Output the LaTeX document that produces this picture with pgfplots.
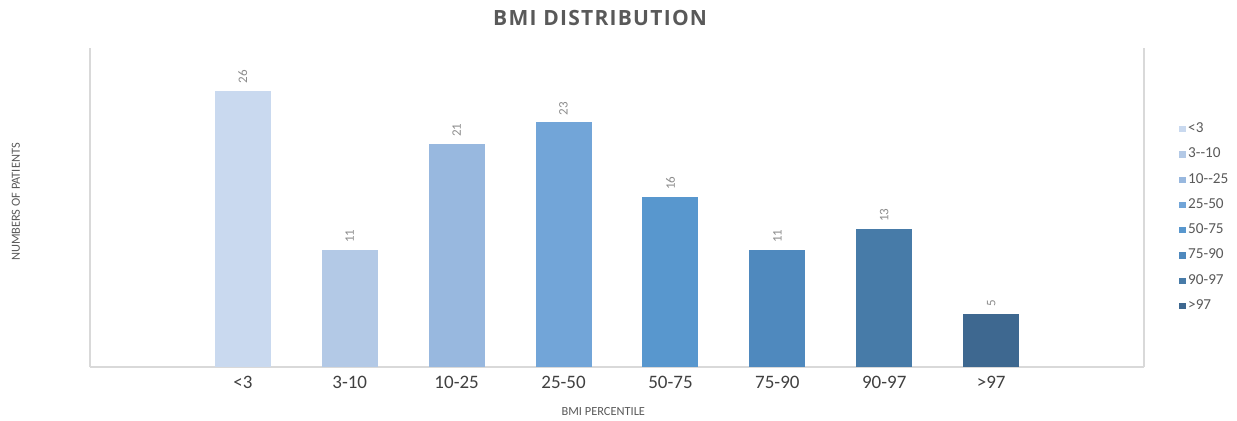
\documentclass[border=0pt]{standalone}
\usepackage{pgfplots}
\pgfplotsset{compat=1.18}
\usepackage{fontspec}
\setmainfont{Carlito}
\newfontfamily\titlefont[LetterSpace=6]{Open Sans}
\definecolor{c1}{HTML}{C9D9EF}
\definecolor{c2}{HTML}{B3C9E6}
\definecolor{c3}{HTML}{98B8DF}
\definecolor{c4}{HTML}{72A5D8}
\definecolor{c5}{HTML}{5897CE}
\definecolor{c6}{HTML}{4F89BE}
\definecolor{c7}{HTML}{477BA8}
\definecolor{c8}{HTML}{3E6890}
\definecolor{axgray}{HTML}{D9D9D9}
\definecolor{txtdark}{HTML}{404040}
\definecolor{txtgray}{HTML}{595959}
\definecolor{valgray}{HTML}{8C8C8C}
\begin{document}
\begin{tikzpicture}
\path[use as bounding box] (0,0) rectangle (618.5pt,210pt);
\begin{axis}[
  at={(45pt,26.5pt)}, anchor=south west,
  scale only axis, width=527pt, height=159.5pt,
  xmin=-1.43, xmax=8.43, ymin=0, ymax=30,
  ybar, bar shift=0pt, bar width=28pt,
  /pgf/number format/assume math mode=true,
  axis x line=bottom, axis y line=box,
  axis line style={draw=axgray, line width=0.6pt, -},
  xtick={0,1,2,3,4,5,6,7},
  xticklabels={{<3},{3-10},{10-25},{25-50},{50-75},{75-90},{90-97},{>97}},
  ytick=\empty,
  major tick length=0pt,
  xticklabel style={font=\fontsize{9.5}{11}\selectfont, text=txtdark, yshift=-1pt},
  nodes near coords,
  every node near coord/.append style={rotate=90, anchor=west, font=\fontsize{6.5}{7}\selectfont, text=valgray, xshift=0pt},
  every axis title/.style={at={(axis description cs:0.484,1.094)}, anchor=center},
  title={\titlefont\bfseries\fontsize{10.5}{12}\selectfont\color{txtgray}BMI DISTRIBUTION},
  every axis x label/.style={at={(axis description cs:0.487,-0.138)}, anchor=center},
  xlabel={BMI PERCENTILE},
  xlabel style={font=\fontsize{6.2}{7}\selectfont, text=txtgray},
  every axis y label/.style={at={(axis description cs:-0.0702,0.517)}, rotate=90, anchor=center},
  ylabel={NUMBERS OF PATIENTS},
  ylabel style={font=\fontsize{6.2}{7}\selectfont, text=txtgray},
  legend image code/.code={\fill[#1] (0pt,-1.6pt) rectangle (3.2pt,1.6pt);},
  legend style={at={(1.033,0.775)}, anchor=north west, draw=none, fill=none,
    font=\fontsize{7.6}{8}\selectfont, text=txtgray, row sep=3.6pt,
    inner sep=0pt, nodes={inner sep=1.3pt}},
  legend cell align=left,
]
\addplot[fill=c1, draw=none] coordinates {(0,26)};
\addplot[fill=c2, draw=none] coordinates {(1,11)};
\addplot[fill=c3, draw=none] coordinates {(2,21)};
\addplot[fill=c4, draw=none] coordinates {(3,23)};
\addplot[fill=c5, draw=none] coordinates {(4,16)};
\addplot[fill=c6, draw=none] coordinates {(5,11)};
\addplot[fill=c7, draw=none] coordinates {(6,13)};
\addplot[fill=c8, draw=none] coordinates {(7,5)};
\legend{{<3},{3-{}-10},{10-{}-25},{25-50},{50-75},{75-90},{90-97},{>97}}
\end{axis}
\end{tikzpicture}
\end{document}
